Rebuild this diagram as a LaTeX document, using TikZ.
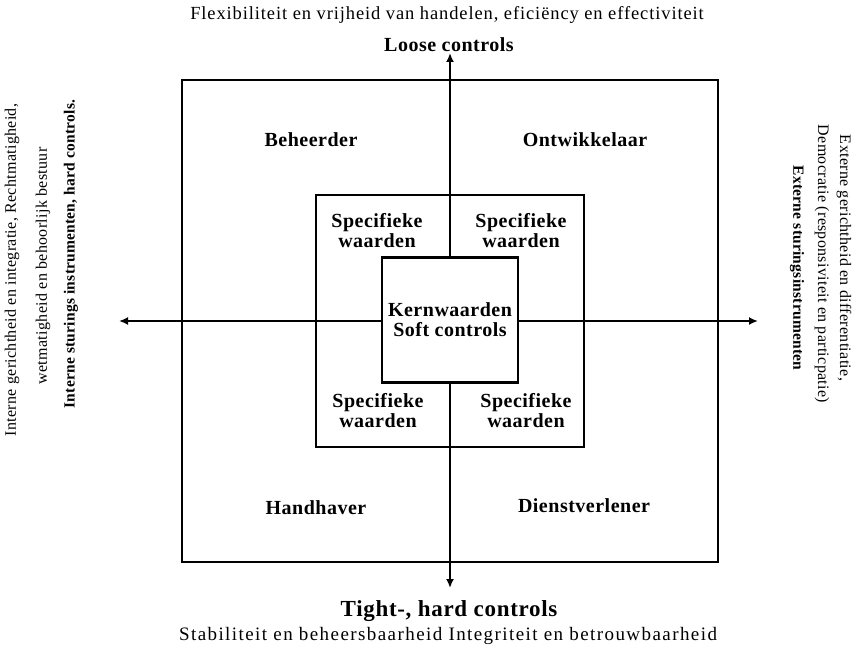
\documentclass[tikz,border=0pt]{standalone}
\usepackage{fontspec}
\setmainfont{Liberation Serif}
\usetikzlibrary{arrows.meta}
\begin{document}
\begin{tikzpicture}[x=1bp,y=-1bp,
  frame/.style={draw,line width=1.5bp,inner sep=0pt,outer sep=0pt},
  boldframe/.style={draw,line width=2.6bp,inner sep=0pt,outer sep=0pt},
  axis/.style={line width=2.6bp,-{Latex[length=9bp,width=8bp]}},
  note/.style={font=\fontsize{17.5bp}{20bp}\selectfont\addfontfeature{LetterSpace=3.5},inner sep=0pt},
  sidenote/.style={font=\fontsize{16bp}{20bp}\selectfont\addfontfeature{LetterSpace=2},inner sep=0pt},
  sidehead/.style={font=\fontsize{15.5bp}{20bp}\selectfont\bfseries\addfontfeature{LetterSpace=1.5},inner sep=0pt},
  head/.style={font=\fontsize{20bp}{24bp}\selectfont\bfseries\addfontfeature{LetterSpace=2.5},inner sep=0pt},
  quad/.style={font=\fontsize{20bp}{24bp}\selectfont\bfseries\addfontfeature{LetterSpace=2.5},inner sep=0pt,align=center}]
\useasboundingbox (0,0) rectangle (856,657);
% frames
\node[frame,minimum width=536bp,minimum height=482bp] (outer) at (450,321) {};
\node[boldframe,minimum width=268bp,minimum height=252bp] (middle) at (450,321) {};
% axes
\coordinate (c) at (450,321);
\coordinate (tipN) at (450,53);
\coordinate (tipS) at (450,588);
\coordinate (tipW) at (119,321);
\coordinate (tipE) at (758,321);
\draw[axis] (c) -- (tipN);
\draw[axis] (c) -- (tipS);
\draw[axis] (c) -- (tipW);
\draw[axis] (c) -- (tipE);
% core values box
\node[boldframe,fill=white,minimum width=136bp,minimum height=125bp] (core) at (450,320) {};
\node[quad] (corelabel) at (core.center) {Kernwaarden\\[-4bp]Soft controls};
% specific values
\node[quad] (sv1) at (377,231) {Specifieke\\[-4bp]waarden};
\node[quad] (sv2) at (521,231) {Specifieke\\[-4bp]waarden};
\node[quad] (sv3) at (378,411) {Specifieke\\[-4bp]waarden};
\node[quad] (sv4) at (526,411) {Specifieke\\[-4bp]waarden};
% roles
\node[quad] (r1) at (311,140) {Beheerder};
\node[quad] (r2) at (585,140) {Ontwikkelaar};
\node[quad] (r3) at (316,508) {Handhaver};
\node[quad] (r4) at (584,506) {Dienstverlener};
% top and bottom captions
\node[note,font=\fontsize{18.5bp}{20bp}\selectfont\addfontfeature{LetterSpace=4.8}] (topnote) at (447,15) {Flexibiliteit en vrijheid van handelen, eficiëncy en effectiviteit};
\node[head] (tophead) at (449,45) {Loose controls};
\node[head,font=\fontsize{23bp}{26bp}\selectfont\bfseries\addfontfeature{LetterSpace=3}] (bothead) at (449,611) {Tight-, hard controls};
\node[note,font=\fontsize{19bp}{20bp}\selectfont\addfontfeature{LetterSpace=7.5}] (botnote) at (448,636) {Stabiliteit en beheersbaarheid Integriteit en betrouwbaarheid};
% left captions
\node[sidenote,rotate=90] (l1) at (12,270) {Interne gerichtheid en integratie, Rechtmatigheid,};
\node[sidenote,rotate=90] (l2) at (43,266) {wetmatigheid en behoorlijk bestuur};
\node[sidehead,rotate=90] (l3) at (71,254) {Interne sturings instrumenten, hard controls.};
% right captions
\node[sidenote,rotate=-90] (e1) at (844,258) {Externe gerichtheid en differentiatie,};
\node[sidenote,rotate=-90] (e2) at (822,264) {Democratie (responsiviteit en particpatie)};
\node[sidehead,rotate=-90] (e3) at (797,268) {Externe sturingsinstrumenten};
\end{tikzpicture}
\end{document}
